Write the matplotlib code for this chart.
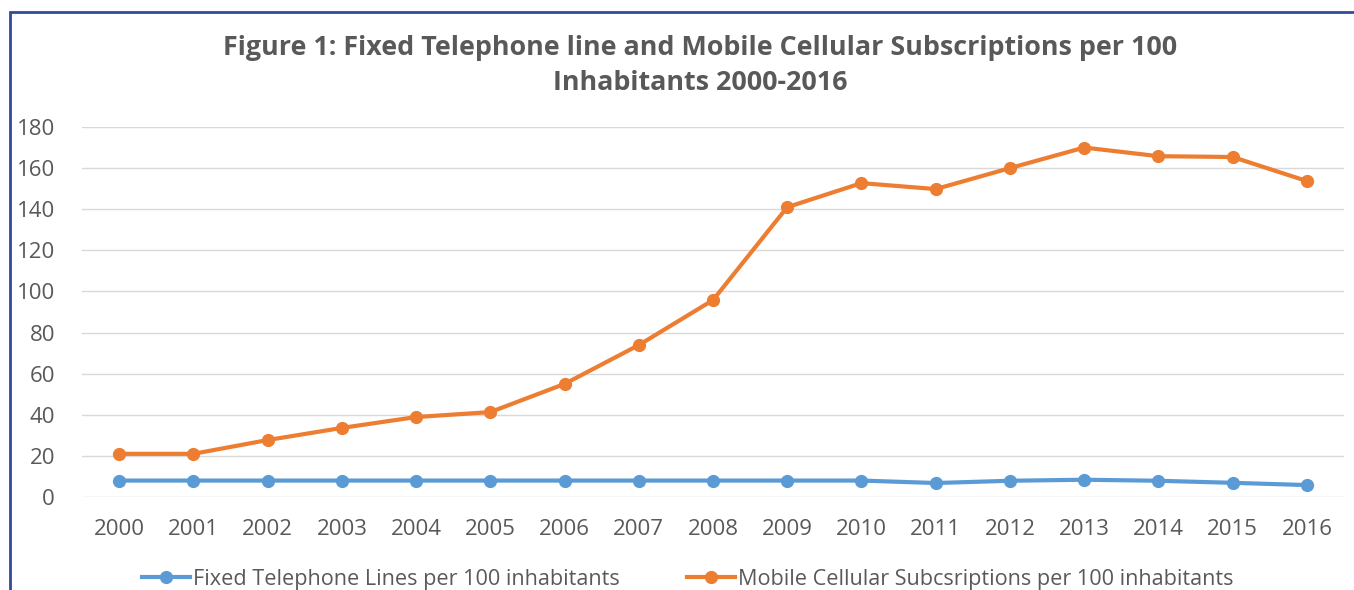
import matplotlib
matplotlib.use('Agg')
import matplotlib.pyplot as plt
from matplotlib.patches import Rectangle

plt.rcParams['font.family'] = ['Open Sans', 'DejaVu Sans']

# Data
years = [str(y) for y in range(2000, 2017)]
fixed_lines = [8, 8, 8, 8, 8, 8, 8, 8, 8, 8, 8, 6.8, 7.9, 8.4, 7.9, 6.9, 5.8]
mobile_subs = [21, 21, 27.7, 33.6, 38.9, 41.3, 55, 73.9, 95.8, 141, 152.7, 149.8, 160, 170, 165.8, 165.4, 153.7]
y_ticks = [0, 20, 40, 60, 80, 100, 120, 140, 160, 180]

title = 'Figure 1: Fixed Telephone line and Mobile Cellular Subscriptions per 100\nInhabitants 2000-2016'
label_fixed = 'Fixed Telephone Lines per 100 inhabitants'
label_mobile = 'Mobile Cellular Subcsriptions per 100 inhabitants'

blue = '#5B9BD5'
orange = '#ED7D31'
text_gray = '#595959'
W, H = 1354, 590

fig = plt.figure(figsize=(W / 100, H / 100), dpi=100)
ax = fig.add_axes([82 / W, 93 / H, (1344 - 82) / W, (497 - 127) / H])

x = list(range(len(years)))
ax.plot(x, fixed_lines, color=blue, lw=3, marker='o', ms=8.5, label=label_fixed)
ax.plot(x, mobile_subs, color=orange, lw=3, marker='o', ms=8.5, label=label_mobile)

ax.set_xlim(-0.5, len(years) - 0.5)
ax.set_ylim(0, 180)
ax.set_yticks(y_ticks)
ax.set_xticks(x)
ax.set_xticklabels(years)
ax.grid(axis='y', color='#D9D9D9', lw=1)
ax.set_axisbelow(True)
for s in ax.spines.values():
    s.set_visible(False)
ax.tick_params(axis='both', length=0, labelsize=16, colors=text_gray)
ax.tick_params(axis='y', pad=19.5)
ax.tick_params(axis='x', pad=15.5)

fig.text(700 / W, 1 - 65.5 / H, title, ha='center', va='center', fontsize=19.4,
         fontweight='bold', color=text_gray, linespacing=1.45)

fig.legend(loc='center', bbox_to_anchor=(688 / W, 1 - 579 / H), ncol=2, frameon=False,
           fontsize=15.6, labelcolor=text_gray, handlelength=2.2, handletextpad=0.15,
           columnspacing=3.1)

# dark blue chart border (cut off at right and bottom)
fig.add_artist(Rectangle((10 / W, -0.1), 2, 1.1 - 12 / H, transform=fig.transFigure,
                         fill=False, edgecolor='#2E4C9A', lw=2, clip_on=False))

fig.savefig('out.png', dpi=100)
